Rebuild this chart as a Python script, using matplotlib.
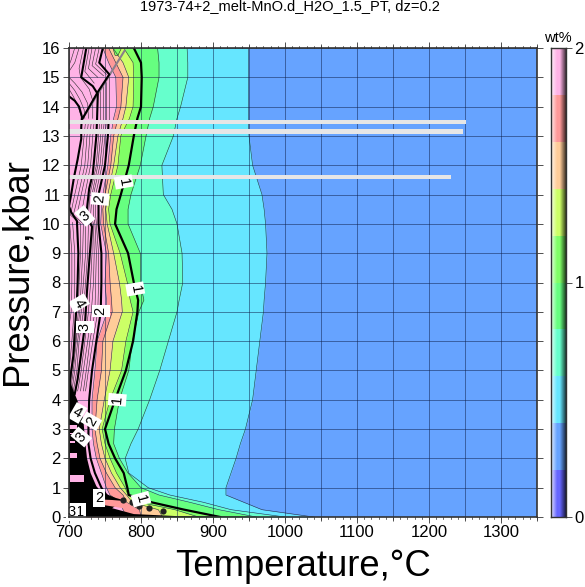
import numpy as np
import matplotlib
matplotlib.use("Agg")
import matplotlib.pyplot as plt

plt.rcParams['font.family'] = ['Liberation Sans', 'DejaVu Sans']

# pressure rows used by the filled contours (kbar)
P_ROWS = [16, 15.5, 15, 14, 13.6, 13, 12, 11, 10.5, 10, 9, 8, 7.4, 7, 6, 5, 4, 3, 2.5, 2, 1.5, 1, 0.75, 0.5, 0.25, 0]

# temperature of each contour level on those rows
L04 = [949, 949, 949, 949, 949, 950, 955, 968, 971, 973, 975, 973, 971, 970, 965, 960, 955, 945, 938, 932, 925, 918, 918, 943, 968, 1040]
L06 = [864, 865, 865, 855, 850, 845, 829, 831, 843, 850, 857, 858, 853, 850, 838, 826, 812, 796, 786, 778, 783, 810, 840, 887, 925, 1000]
L08 = [823, 825, 825, 817, 812, 807, 799, 786, 782, 782, 799, 799, 804, 797, 788, 783, 770, 763, 762, 770, 782, 800, 825, 868, 908, 960]
L10 = [790, 800, 801, 800, 795, 790, 783, 772, 766, 764, 782, 790, 796, 795, 789, 779, 764, 750, 755, 764, 776, 781, 783, 815, 860, 910]
L12 = [776, 789, 790, 789, 784, 772, 768, 758, 755, 757, 771, 781, 785, 789, 779, 773, 757, 746, 750, 757, 766, 778, 782, 798, 847, 880]
L14 = [761, 775, 783, 779, 775, 768, 762, 754, 751, 753, 762, 770, 773, 774, 761, 757, 749, 742, 745, 750, 759, 771, 780, 788, 824, 830]
L16 = [755, 765, 775, 772, 768, 762, 758, 750, 747, 748, 755, 757, 759, 760, 747, 745, 739, 736, 739, 743, 752, 764, 775, 780, 798, 800]
L18 = [747, 755, 765, 766, 762, 758, 754, 747, 745, 744, 752, 750, 752, 753, 739, 736, 732, 732, 734, 738, 745, 752, 757, 771, 775, 780]

# small closed light green patch at the top
BLOB_T = [761, 773, 768, 764, 761]
BLOB_P = [16, 16, 15.75, 15.75, 16]

# thick contours in the pink area
L20_T = [747, 742, 756, 740, 719]
L20_P = [16, 15.5, 15.1, 14.5, 13.6]
L20B_P = [13.5, 13, 12, 11, 10.3, 10, 9, 8, 7, 6, 5, 4, 3, 2.5, 2, 1.5, 1, 0.75, 0.5]
L20B_T = [755, 754, 750, 741, 741, 741, 745, 745, 744, 738, 732, 728, 727, 727, 730, 736, 745, 752, 760]
L30_P = [16, 15, 14.7, 14.43, 13.6, 13, 11.7, 11.2, 10.3, 9.9, 9, 7.7, 6.5, 4.7, 4.2]
L30_T = [724, 717, 733, 740, 739, 738, 733, 728, 724, 732, 729, 725, 722, 712, 708]
L40A_P = [14.35, 14.2, 14, 13.65, 13.3, 12.9, 12.2, 11.6, 11, 10.6]
L40A_T = [700, 708, 714, 718, 717, 717, 712, 707, 703, 700]
L40B_P = [10.6, 10.4, 10.1, 9, 8, 7.4, 6.3, 5.5, 4.8, 4.3]
L40B_T = [700, 703, 711, 713, 712, 711, 708, 706, 702, 700]

# thin contours between the thick ones
THIN_P = [13.5, 13, 12, 11, 10.3, 10, 9, 8, 7, 6, 5, 4.3]
L22 = [752, 750, 746, 737, 737, 738, 741, 741, 740, 733, 727, 723]
L24 = [749, 747, 743, 734, 734, 736, 738, 737, 736, 729, 724, 720]
L26 = [746, 744, 740, 732, 730, 734, 735, 734, 731, 726, 720, 716]
L28 = [743, 741, 738, 729, 727, 732, 732, 730, 727, 722, 717, 712]
L32 = [735, 733, 730, 722, 717, 727, 726, 723, 720, 714, 711, 706]
L34 = [731, 729, 726, 717, 711, 723, 723, 720, 717, 712, 708, 704]
L36 = [727, 725, 722, 713, 706, 720, 719, 717, 715, 710, 706, 702]
L38 = [723, 721, 717, 708, 702, 716, 716, 714, 713, 709, 704, 701]
L42_P = [10.05, 9, 8, 7, 6, 5.2]
L42_T = [705, 708, 708, 707, 704, 701]
L44_P = [10, 9, 8, 7, 6.5]
L44_T = [701, 704, 704, 703, 700]

# thin contours above the fold
TOP_LINES = [
    ([16, 15.45, 15.1], [742, 737, 752]),
    ([16, 15.4, 15.05], [737, 732, 748]),
    ([16, 15.3, 15], [732, 727, 740]),
    ([16, 15.2, 14.8], [728, 722, 735]),
    ([16, 15.3, 15, 14.6, 14.2, 13.6], [720, 714, 716, 728, 733, 733]),
    ([16, 15.5, 15.2], [714, 708, 700]),
    ([16, 15.6, 15.4], [708, 703, 700]),
    ([15, 14.8, 14.5, 14.1, 13.6], [700, 708, 718, 726, 727]),
    ([14.8, 14.55, 14.25, 13.9, 13.6], [700, 708, 715, 721, 722]),
    ([14.6, 14.35, 14.05, 13.6], [700, 706, 712, 718]),
]
FOLD_T = [743, 747, 751, 755]
FOLD_TOP = [14.55, 14.7, 14.85, 15.0]
DIAG_T = [777, 719]
DIAG_P = [15.9, 13.6]

# black mass in the low pressure corner
MASS_T = [700, 708, 716, 720, 722, 725, 730, 738, 745, 765, 775, 760, 790, 850, 950, 950, 700]
MASS_P = [4.7, 4.2, 3.7, 3.3, 2.7, 2, 1.5, 1.05, 0.85, 0.65, 0.58, 0.3, 0.1, 0.03, 0.01, 0, 0]
SALMON_T = [742, 760, 775, 785, 775, 750]
SALMON_P = [0.6, 0.58, 0.55, 0.42, 0.3, 0.4]
PATCH_P = [3.07, 2.85, 2.55, 2.09, 1.32]
PATCH_H = [0.13, 0.06, 0.06, 0.18, 0.23]
PATCH_L = [700, 701, 701, 701, 701]
PATCH_W = [11, 11, 7, 10, 20]
DOT_T = [775, 787, 797, 811, 830]
DOT_P = [0.58, 0.52, 0.37, 0.3, 0.2]

# missing-data stripes
STRIPE_P = [13.48, 13.15, 11.6]
STRIPE_H = [0.12, 0.2, 0.12]
STRIPE_END = [1252, 1247, 1231]

# contour labels
LABEL_TEXT = ['1', '1', '1', '1', '2', '2', '2', '2', '3', '3', '3', '4', '4', '1', '3']
LABEL_T = [776, 792, 767, 800, 743, 744, 731, 742, 722, 722, 717, 714, 712, 715, 704]
LABEL_P = [11.43, 7.78, 4.0, 0.61, 10.85, 7.03, 3.27, 0.65, 10.27, 6.48, 2.73, 7.3, 3.55, 0.17, 0.17]
LABEL_ROT = [-80, -80, 85, -75, 85, 90, 60, 0, 40, 90, 50, -60, -30, 0, 0]

# colour bands of the scale
BAND_COLORS = ['#6666ff', '#66a3ff', '#66e6ff', '#66ffcc', '#66ff80',
               '#80ff66', '#ccff66', '#ffcc99', '#ff9999', '#ffb3e6']
LINE_COLOR = '#2a2a2a'

fig = plt.figure(figsize=(5.85, 5.87), dpi=100)
ax = fig.add_axes([69 / 585, 70 / 587, 468 / 585, 469 / 587])
ax.set_xlim(700, 1350)
ax.set_ylim(0, 16)
ax.set_facecolor(BAND_COLORS[1])

# fills painted from the outer level inwards
levels = [L04, L06, L08, L10, L12, L14, L16, L18]
for i, level in enumerate(levels):
    ax.fill_betweenx(P_ROWS, 700, level, color=BAND_COLORS[i + 2], lw=0, zorder=1)
ax.fill(BLOB_T, BLOB_P, color=BAND_COLORS[5], lw=0.4, ec=LINE_COLOR, zorder=1.5)

for level in [L04, L06, L08, L12, L14, L16, L18]:
    ax.plot(level, P_ROWS, color='#223344', lw=0.4, zorder=2)
ax.plot(L10, P_ROWS, color='black', lw=1.6, zorder=3)

for level in [L22, L24, L26, L28, L32, L34, L36, L38]:
    ax.plot(level, THIN_P, color=LINE_COLOR, lw=0.4, zorder=2)
ax.plot(L42_T, L42_P, color=LINE_COLOR, lw=0.4, zorder=2)
ax.plot(L44_T, L44_P, color=LINE_COLOR, lw=0.4, zorder=2)
for p, t in TOP_LINES:
    ax.plot(t, p, color=LINE_COLOR, lw=0.4, zorder=2)
for t, top in zip(FOLD_T, FOLD_TOP):
    ax.plot([t, t], [top, 13.5], color=LINE_COLOR, lw=0.4, zorder=2)

ax.plot(DIAG_T, DIAG_P, color='#8a7f8a', lw=1.5, zorder=2.5)
for t, p in [(L20_T, L20_P), (L20B_T, L20B_P), (L30_T, L30_P), (L40A_T, L40A_P), (L40B_T, L40B_P)]:
    ax.plot(t, p, color='black', lw=1.5, zorder=3)

ax.fill(MASS_T, MASS_P, color='black', lw=0, zorder=3)
ax.fill(SALMON_T, SALMON_P, color=BAND_COLORS[8], lw=0, zorder=3.1)
ax.barh(PATCH_P, PATCH_W, height=PATCH_H, left=PATCH_L, color=BAND_COLORS[9], lw=0, zorder=3.2)
ax.scatter(DOT_T, DOT_P, s=20, color='#222222', lw=0, zorder=3.2)

ax.barh(STRIPE_P, [e - 700 for e in STRIPE_END], height=STRIPE_H, left=700,
        color='#e6e6e6', lw=0, zorder=3.5)

# ticks and grid
ax.set_xticks(np.arange(700, 1301, 100))
ax.set_xticks(np.arange(700, 1351, 50), minor=True)
ax.set_yticks(np.arange(0, 17))
ax.set_axisbelow(False)
ax.grid(True, color='#10204a', alpha=0.6, lw=0.6, zorder=4)
ax.grid(True, which='minor', axis='x', color='#10204a', alpha=0.6, lw=0.6, zorder=4)
ax.tick_params(axis='both', which='major', length=4.5, width=0.6, labelsize=12, color='#333333',
               top=True, right=True, direction='out', pad=1.5)
ax.tick_params(axis='x', which='minor', length=3, width=0.6, top=True, color='#333333')
for t in np.arange(700, 1351, 10):
    ax.plot([t, t], [16, 16.07], color='#333333', lw=0.5, clip_on=False, zorder=1)
    ax.plot([t, t], [0, -0.07], color='#333333', lw=0.5, clip_on=False, zorder=1)
for side in ax.spines.values():
    side.set_linewidth(1.2)
    side.set_color('#333333')
    side.set_zorder(7)

for txt, t, p, rot in zip(LABEL_TEXT, LABEL_T, LABEL_P, LABEL_ROT):
    ax.text(t, p, txt, fontsize=10.5, rotation=rot, ha='center', va='center', zorder=6,
            bbox=dict(fc='white', ec='none', pad=1.5))

fig.text(303.5 / 585, 1 - 566 / 587, 'Temperature,°C', fontsize=26.3, ha='center', va='center')
fig.text(17 / 585, 1 - 272 / 587, 'Pressure,kbar', fontsize=26.3, rotation=90, ha='center', va='center')
fig.text(290 / 585, 1 - 6 / 587, '1973-74+2_melt-MnO.d_H2O_1.5_PT, dz=0.2', fontsize=10.5,
         ha='center', va='center')

# colour scale, shaded from left to right
cax = fig.add_axes([551 / 585, 70 / 587, 15 / 585, 469 / 587])
rgb = np.array([matplotlib.colors.to_rgb(c) for c in BAND_COLORS])
shade = np.linspace(-1, 1, 15)
img = np.zeros((10, 15, 3))
for col, s in enumerate(shade):
    if s < -0.2:
        w = (-0.2 - s) / 0.8 * 0.75
        img[:, col] = rgb * (1 - w) + w
    elif s > 0.2:
        img[:, col] = rgb * (1 - (s - 0.2) / 0.8 * 0.7)
    else:
        img[:, col] = rgb
cax.imshow(img, origin='lower', extent=[0, 1, 0, 2], aspect='auto', interpolation='nearest')
cax.set_xticks([])
cax.set_yticks([0, 1, 2])
cax.yaxis.tick_right()
cax.tick_params(axis='y', length=4.5, width=0.6, labelsize=12, color='#333333', pad=1.5)
for side in cax.spines.values():
    side.set_linewidth(1.0)
    side.set_color('#333333')
fig.text(558 / 585, 1 - 38 / 587, 'wt%', fontsize=10.5, ha='center', va='center')

fig.savefig('out.png', dpi=100)
